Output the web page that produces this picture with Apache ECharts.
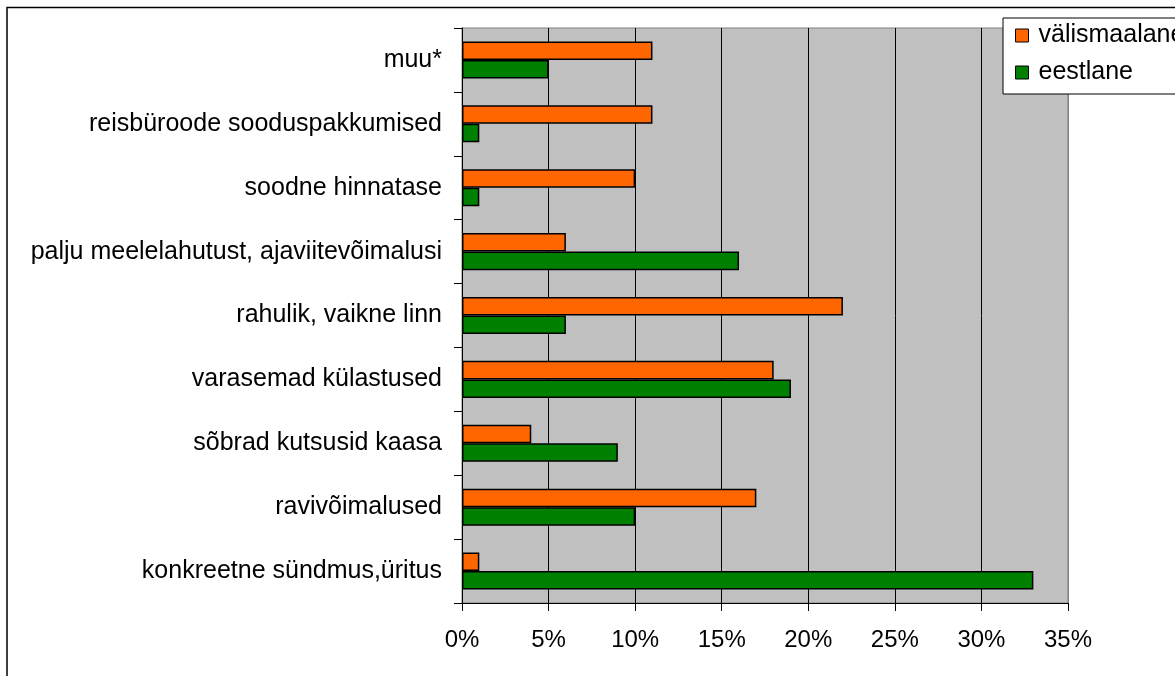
<!DOCTYPE html>
<html>
<head>
<meta charset="utf-8">
<script src="https://cdn.jsdelivr.net/npm/echarts@6/dist/echarts.min.js"></script>
<style>
  html, body { margin: 0; padding: 0; background: #fff; }
  #myChart { width: 1175px; height: 676px; }
</style>
</head>
<body>
<div id="myChart"></div>
<script>
// kategooriad alt üles (nagu y-telg neid joonistab)
var categories = [
  "konkreetne sündmus,üritus",
  "ravivõimalused",
  "sõbrad kutsusid kaasa",
  "varasemad külastused",
  "rahulik, vaikne linn",
  "palju meelelahutust, ajaviitevõimalusi",
  "soodne hinnatase",
  "reisbüroode sooduspakkumised",
  "muu*"
];
var valismaalane = [1, 17, 4, 18, 22, 6, 10, 11, 11];
var eestlane = [33, 10, 9, 19, 6, 16, 1, 1, 5];
var xTicks = { min: 0, max: 35, interval: 5 };

var font = "'Liberation Sans', Arial, sans-serif";
var myChart = echarts.init(document.getElementById("myChart"));

myChart.setOption({
  animation: false,
  backgroundColor: "#fff",
  textStyle: { fontFamily: font },
  graphic: [
    {
      type: "rect",
      shape: { x: 7, y: 7.5, width: 1300, height: 800 },
      style: { fill: "none", stroke: "#000", lineWidth: 1.5 },
      z: 0
    }
  ],
  legend: {
    orient: "vertical",
    left: 1003,
    top: 18,
    data: ["välismaalane", "eestlane"],
    icon: "rect",
    itemWidth: 13,
    itemHeight: 13,
    itemGap: 12,
    padding: [5, 12, 9, 12],
    backgroundColor: "#fff",
    borderColor: "#000",
    borderWidth: 1,
    borderRadius: 0,
    itemStyle: { borderColor: "#000", borderWidth: 1 },
    textStyle: { fontSize: 25, color: "#000", fontFamily: font, padding: [0, 0, 0, 5] }
  },
  grid: {
    left: 462,
    right: 107,
    top: 28,
    bottom: 73,
    show: true,
    backgroundColor: "#C0C0C0",
    borderColor: "#808080",
    borderWidth: 1
  },
  xAxis: {
    type: "value",
    min: xTicks.min,
    max: xTicks.max,
    interval: xTicks.interval,
    axisLine: { show: true, lineStyle: { color: "#000", width: 1 } },
    axisTick: { show: true, length: 8, lineStyle: { color: "#000" } },
    axisLabel: {
      formatter: "{value}%",
      fontSize: 24,
      color: "#000",
      margin: 25,
      fontFamily: font
    },
    splitLine: {
      show: true,
      lineStyle: {
        color: ["#000", "#000", "#000", "#000", "#000", "#000", "#000", "#808080"],
        width: 1
      }
    }
  },
  yAxis: {
    type: "category",
    data: categories,
    axisLine: { show: true, lineStyle: { color: "#000", width: 1 } },
    axisTick: { show: true, length: 8, lineStyle: { color: "#000" } },
    axisLabel: { fontSize: 25, color: "#000", margin: 20, fontFamily: font }
  },
  series: [
    {
      name: "välismaalane",
      type: "bar",
      data: valismaalane,
      barGap: "0%",
      barCategoryGap: "42%",
      itemStyle: { color: "#FF6600", borderColor: "#000", borderWidth: 1.5 }
    },
    {
      name: "eestlane",
      type: "bar",
      data: eestlane,
      itemStyle: { color: "#008000", borderColor: "#000", borderWidth: 1.5 }
    }
  ]
});
</script>
</body>
</html>
